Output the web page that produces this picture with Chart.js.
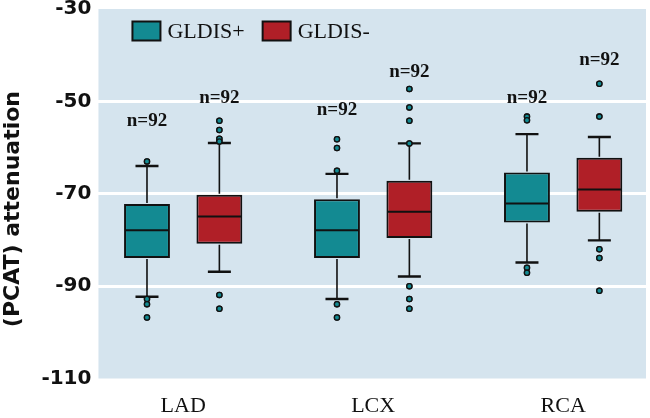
<!DOCTYPE html>
<html>
<head>
<meta charset="utf-8">
<script src="https://cdn.jsdelivr.net/npm/chart.js@4.4.1/dist/chart.umd.min.js"></script>
<style>
  html, body { margin: 0; padding: 0; background: #fff; }
  #wrap { width: 650px; height: 418px; }
</style>
</head>
<body>
<div id="wrap"><canvas id="boxChart"></canvas></div>
<script>
const categories = ['LAD', 'LCX', 'RCA'];
const yTicks = [-110, -90, -70, -50, -30];

// GLDIS+
const plusQ1 = [-83.9, -83.9, -76.2];
const plusQ3 = [-72.2, -71.2, -65.4];
const plusMedian = [-77.9, -77.9, -72.1];
const plusLow = [-92.3, -92.8, -84.9];
const plusHigh = [-64.0, -65.7, -57.1];
const plusOutliers = [
    [-63.0, -92.8, -93.9, -96.8],
    [-58.2, -60.1, -65.0, -93.9, -96.8],
    [-53.3, -54.1, -86.0, -87.1]
];
const plusN = [92, 92, 92];
const plusNLabelAt = [-54.2, -51.8, -49.3];

// GLDIS-
const minusQ1 = [-80.8, -79.6, -73.9];
const minusQ3 = [-70.2, -67.2, -62.2];
const minusMedian = [-74.9, -73.9, -69.1];
const minusLow = [-86.9, -87.9, -80.1];
const minusHigh = [-59.0, -59.1, -57.7];
const minusOutliers = [
    [-54.2, -56.2, -58.1, -58.7, -91.9, -94.9],
    [-47.3, -51.3, -54.2, -59.1, -90.0, -92.8, -94.9],
    [-46.2, -53.3, -82.0, -83.9, -91.0]
];
const minusN = [92, 92, 92];
const minusNLabelAt = [-49.3, -43.7, -41.1];

const TEAL = '#138a92';
const RED = '#b01f27';
const CAT_PCT = 0.762;
const shift = CAT_PCT / 4;

const groups = [
    { label: 'GLDIS+', color: TEAL, q1: plusQ1, q3: plusQ3, med: plusMedian, lo: plusLow, hi: plusHigh, out: plusOutliers, n: plusN, nAt: plusNLabelAt, side: -1 },
    { label: 'GLDIS-', color: RED, q1: minusQ1, q3: minusQ3, med: minusMedian, lo: minusLow, hi: minusHigh, out: minusOutliers, n: minusN, nAt: minusNLabelAt, side: 1 }
];

const boxSets = groups.map(g => ({
    type: 'bar',
    label: g.label,
    data: categories.map((c, i) => ({ x: i, y: [g.q1[i], g.q3[i]] })),
    backgroundColor: g.color,
    borderColor: '#111',
    borderWidth: 2,
    borderSkipped: false,
    categoryPercentage: CAT_PCT,
    barPercentage: 0.634
}));

const outlierSets = groups.map(g => ({
    type: 'scatter',
    label: g.label + ' outliers',
    data: g.out.flatMap((vals, i) => vals.map(v => ({ x: i + g.side * shift, y: v }))),
    backgroundColor: TEAL,
    borderColor: '#111',
    borderWidth: 1.3,
    pointRadius: 2.6,
    pointHoverRadius: 2.6
}));

const plotBackground = {
    id: 'plotBackground',
    beforeDraw(chart) {
        const { ctx, chartArea: a } = chart;
        ctx.save();
        ctx.fillStyle = '#d5e4ee';
        ctx.fillRect(a.left, a.top, a.right - a.left, a.bottom - a.top);
        ctx.restore();
    }
};

const boxParts = {
    id: 'boxParts',
    afterDatasetsDraw(chart) {
        const { ctx } = chart;
        const y = chart.scales.y;
        ctx.save();
        groups.forEach((g, d) => {
            const meta = chart.getDatasetMeta(d);
            meta.data.forEach((bar, i) => {
                const cx = bar.x;
                const half = bar.width / 2;
                const capHalf = 11.5;
                const yq1 = y.getPixelForValue(g.q1[i]);
                const yq3 = y.getPixelForValue(g.q3[i]);
                const ylo = y.getPixelForValue(g.lo[i]);
                const yhi = y.getPixelForValue(g.hi[i]);
                const ymed = y.getPixelForValue(g.med[i]);
                ctx.strokeStyle = '#111';
                ctx.lineWidth = 1.6;
                ctx.beginPath();
                ctx.moveTo(cx, yq3 - 1); ctx.lineTo(cx, yhi);
                ctx.moveTo(cx, yq1 + 1); ctx.lineTo(cx, ylo);
                ctx.stroke();
                ctx.lineWidth = 2.4;
                ctx.beginPath();
                ctx.moveTo(cx - capHalf, yhi); ctx.lineTo(cx + capHalf, yhi);
                ctx.moveTo(cx - capHalf, ylo); ctx.lineTo(cx + capHalf, ylo);
                ctx.stroke();
                ctx.lineWidth = 2;
                ctx.beginPath();
                ctx.moveTo(cx - half + 1, ymed); ctx.lineTo(cx + half - 1, ymed);
                ctx.stroke();
                ctx.fillStyle = '#111';
                ctx.font = 'bold 19px "Liberation Serif", serif';
                ctx.textAlign = 'center';
                ctx.textBaseline = 'middle';
                ctx.fillText('n=' + g.n[i], cx, y.getPixelForValue(g.nAt[i]));
            });
        });
        ctx.restore();
    },
    afterDraw(chart) {
        const { ctx, chartArea: a } = chart;
        // keep outlier dots above whiskers
        [2, 3].forEach(d => chart.getDatasetMeta(d).controller.draw());
        // legend inside the plot area, in one row
        ctx.save();
        ctx.font = '22px "Liberation Serif", serif';
        ctx.textBaseline = 'middle';
        ctx.textAlign = 'left';
        let x = a.left + 34;
        const yMid = a.top + 22;
        groups.forEach(g => {
            ctx.fillStyle = g.color;
            ctx.fillRect(x, yMid - 9.5, 28, 19);
            ctx.strokeStyle = '#111';
            ctx.lineWidth = 2;
            ctx.strokeRect(x, yMid - 9.5, 28, 19);
            ctx.fillStyle = '#111';
            ctx.fillText(g.label, x + 35, yMid + 1);
            x += 35 + ctx.measureText(g.label).width + 18;
        });
        ctx.restore();
    }
};

new Chart(document.getElementById('boxChart').getContext('2d'), {
    type: 'bar',
    data: { datasets: [...boxSets, ...outlierSets] },
    options: {
        responsive: true,
        maintainAspectRatio: false,
        animation: false,
        layout: { padding: { top: 0, right: 4, left: 0, bottom: -8.5 } },
        plugins: {
            legend: { display: false },
            tooltip: { enabled: false }
        },
        scales: {
            x: {
                type: 'linear',
                offset: false,
                min: -0.446,
                max: 2.436,
                afterBuildTicks: axis => { axis.ticks = categories.map((c, i) => ({ value: i })); },
                ticks: {
                    callback: v => categories[v],
                    color: '#111',
                    padding: 9,
                    font: { family: '"Liberation Serif", serif', size: 22, lineHeight: 1 }
                },
                grid: { display: false },
                border: { display: false }
            },
            y: {
                min: -110,
                max: -30,
                afterBuildTicks: axis => { axis.ticks = yTicks.map(v => ({ value: v })); },
                afterFit: axis => { axis.paddingTop = 9; },
                ticks: {
                    color: '#111',
                    padding: 7,
                    font: { family: '"DejaVu Sans", sans-serif', size: 20, weight: 'bold', lineHeight: 1 }
                },
                grid: {
                    drawTicks: false,
                    lineWidth: 3,
                    color: ctx => (ctx.tick && ctx.tick.value > -110 && ctx.tick.value < -30) ? '#ffffff' : 'rgba(0,0,0,0)'
                },
                border: { display: false },
                title: {
                    display: true,
                    // trailing spaces nudge the rotated title down a little
                    text: '(PCAT) attenuation    ',
                    color: '#111',
                    padding: { top: 0, bottom: 8 },
                    font: { family: '"DejaVu Sans", sans-serif', size: 22, weight: 'bold' }
                }
            }
        }
    },
    plugins: [plotBackground, boxParts]
});
</script>
</body>
</html>
